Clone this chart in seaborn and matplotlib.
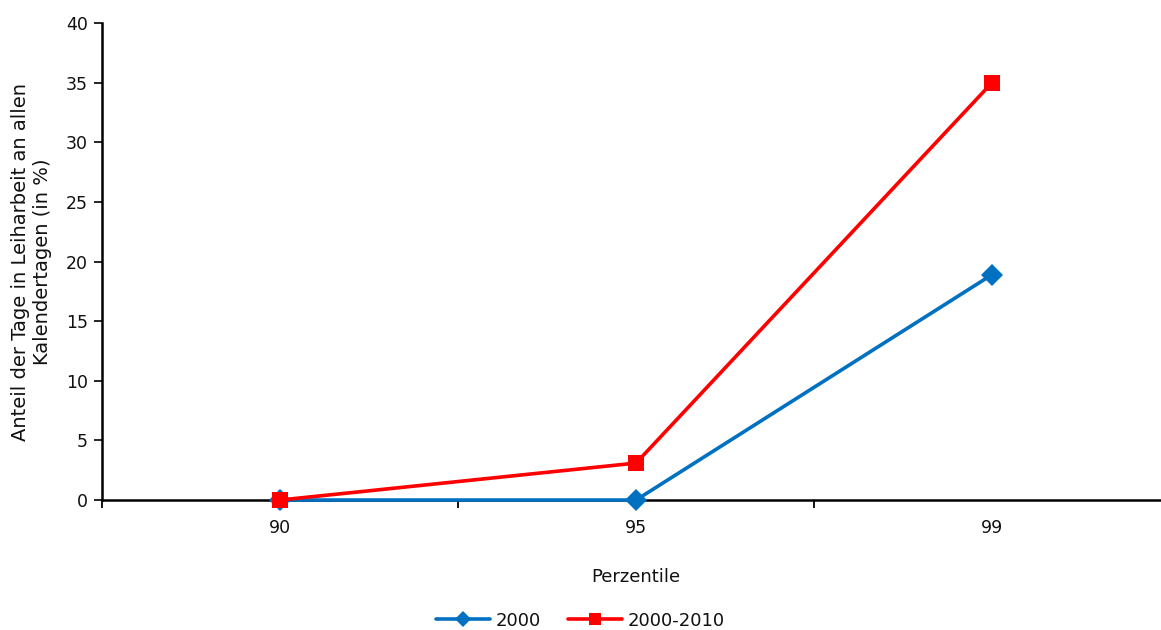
import matplotlib
matplotlib.use("Agg")
import matplotlib.pyplot as plt
import seaborn as sns
import pandas as pd
from matplotlib.lines import Line2D

# Data
perzentile = ["90", "95", "99"]
werte_2000 = [0.0, 0.0, 18.9]
werte_2000_2010 = [0.0, 3.1, 35.0]
serien = ["2000", "2000-2010"]
y_ticks = [0, 5, 10, 15, 20, 25, 30, 35, 40]

df = pd.DataFrame({
    "Perzentile": perzentile * 2,
    "Wert": werte_2000 + werte_2000_2010,
    "Serie": [serien[0]] * 3 + [serien[1]] * 3,
})

sns.set_style("white")
plt.rcParams["font.family"] = ["DejaVu Sans"]
plt.rcParams["text.color"] = "#111111"
plt.rcParams["axes.labelcolor"] = "#111111"
plt.rcParams["xtick.color"] = "#111111"
plt.rcParams["ytick.color"] = "#111111"

fig = plt.figure(figsize=(11.61, 6.30), dpi=100)
ax = fig.add_axes([0.0879, 0.2063, 0.9199, 0.7572])

sns.lineplot(
    data=df, x="Perzentile", y="Wert", hue="Serie", style="Serie",
    palette={"2000": "#0070C0", "2000-2010": "#FF0000"},
    markers={"2000": "D", "2000-2010": "s"}, dashes=False,
    markersize=11.5, linewidth=2.6, markeredgewidth=0,
    ax=ax, legend=False, clip_on=False, zorder=3,
)
# red series drawn on top of blue
for line in ax.get_lines():
    if line.get_color() in ("#FF0000", "#ff0000"):
        line.set_zorder(4)

ax.set_xlim(-0.5, 2.5)
ax.set_ylim(0, 40)
ax.set_yticks(y_ticks)
ax.set_yticklabels([str(t) for t in y_ticks], fontsize=12.5)

# category boundaries carry the tick marks, category centres carry the labels
ax.set_xticks([-0.5, 0.5, 1.5])
ax.set_xticklabels([])
ax.tick_params(axis="x", which="major", length=6, width=1.3, direction="out", color="black", bottom=True)
ax.set_xticks([0, 1, 2], minor=True)
ax.set_xticklabels(perzentile, minor=True, fontsize=12.5)
ax.tick_params(axis="x", which="minor", length=0, pad=14, bottom=True)
ax.tick_params(axis="y", length=6, width=1.2, direction="out", color="black", pad=4, left=True)

for side in ["top", "right"]:
    ax.spines[side].set_visible(False)
for side in ["left", "bottom"]:
    ax.spines[side].set_color("black")
    ax.spines[side].set_linewidth(1.8)
ax.spines["bottom"].set_zorder(2)

ax.set_xlabel("Perzentile", fontsize=13, labelpad=22)
ax.set_ylabel("Anteil der Tage in Leiharbeit an allen\nKalendertagen (in %)", fontsize=14, labelpad=10)

handles = [
    Line2D([], [], color="#0070C0", marker="D", markersize=8, linewidth=2.6, markeredgewidth=0),
    Line2D([], [], color="#FF0000", marker="s", markersize=9, linewidth=2.6, markeredgewidth=0),
]
fig.legend(handles, serien, loc="lower center", bbox_to_anchor=(0.5, -0.025), ncol=2,
           frameon=False, fontsize=13, handlelength=3.0, columnspacing=1.5, handletextpad=0.3)

fig.savefig("out.png", dpi=100)
